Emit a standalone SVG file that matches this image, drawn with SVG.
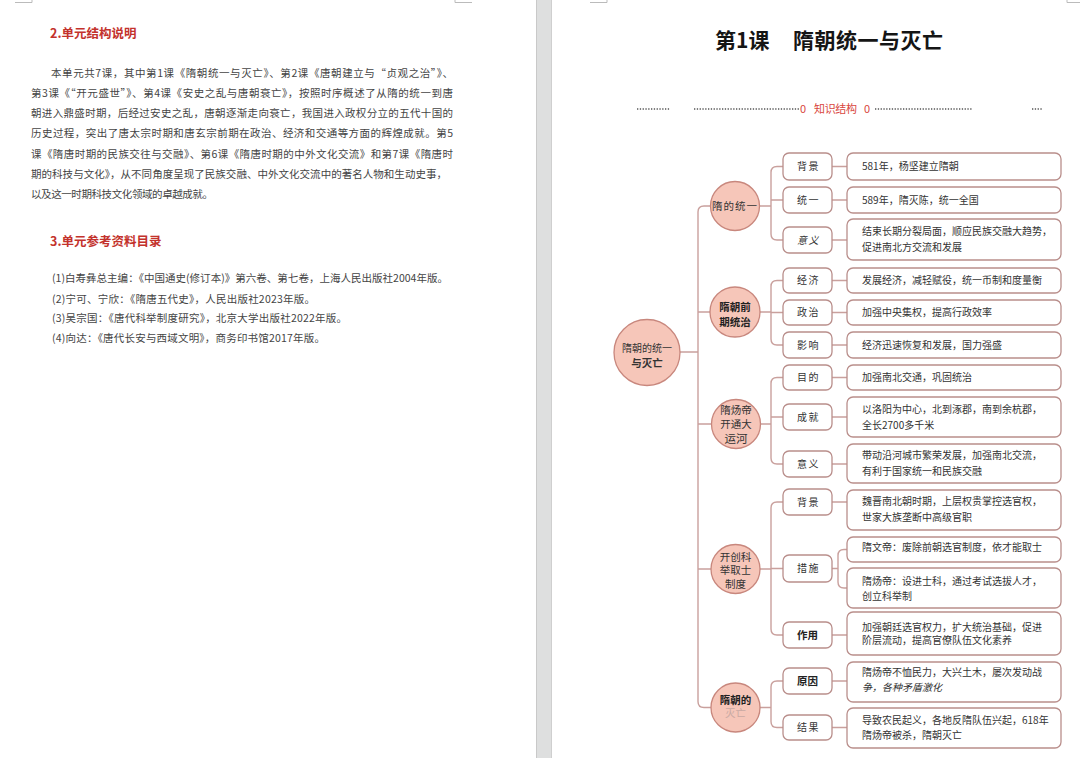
<svg xmlns="http://www.w3.org/2000/svg" width="1080" height="758" viewBox="0 0 1080 758">
<style>
text{font-family:"Noto Sans CJK SC","Noto Sans",sans-serif}
.body{font-size:10.5px;fill:#444}
.h{font-size:12.5px;font-weight:bold;fill:#c3322c}
.title{font-size:21px;font-weight:bold;fill:#151515}
.red{font-size:11px;fill:#d9463e}
.dots{fill:none;stroke:#555;stroke-width:1.5;stroke-dasharray:1.3 1.5}
.crop{fill:none;stroke:#bbb;stroke-width:1}
.circ{fill:#f6c6b9;stroke:#c8877d;stroke-width:1.3}
.box{fill:#fff;stroke:#b98e8b;stroke-width:1.3}
.conn{fill:none;stroke:#c9a09d;stroke-width:1.4}
.nt{font-size:10.5px;fill:#333;text-anchor:middle}
.bt{font-size:10px;fill:#333;text-anchor:middle;letter-spacing:1.5px}
.bb{font-size:10.5px;fill:#222;text-anchor:middle;font-weight:bold}
.ct{font-size:10px;fill:#333}
</style>
<rect x="0" y="0" width="1080" height="758" fill="#fff"/>
<rect x="536" y="0" width="16" height="758" fill="#dedfdf"/>
<line x1="536.5" y1="0" x2="536.5" y2="758" stroke="#c9c9c9"/>
<line x1="551.5" y1="0" x2="551.5" y2="758" stroke="#cfcfcf"/>
<path class="crop" d="M15 2.5H32V0M455 0V2.5H472M590 2.5H607V0M1067 0V2.5H1080"/>

<g id="left-page">
<text class="h" x="50" y="37.5">2.单元结构说明</text>
<text class="body" x="51" y="76.7" textLength="402" lengthAdjust="spacing">本单元共7课，其中第1课《隋朝统一与灭亡》、第2课《唐朝建立与“贞观之治”》、</text>
<text class="body" x="31" y="96.9" textLength="422" lengthAdjust="spacing">第3课《“开元盛世”》、第4课《安史之乱与唐朝衰亡》，按照时序概述了从隋的统一到唐</text>
<text class="body" x="31" y="117.1" textLength="422" lengthAdjust="spacing">朝进入鼎盛时期，后经过安史之乱，唐朝逐渐走向衰亡，我国进入政权分立的五代十国的</text>
<text class="body" x="31" y="137.3" textLength="422" lengthAdjust="spacing">历史过程，突出了唐太宗时期和唐玄宗前期在政治、经济和交通等方面的辉煌成就。第5</text>
<text class="body" x="31" y="157.5" textLength="422" lengthAdjust="spacing">课《隋唐时期的民族交往与交融》、第6课《隋唐时期的中外文化交流》和第7课《隋唐时</text>
<text class="body" x="31" y="177.7" textLength="416" lengthAdjust="spacing">期的科技与文化》，从不同角度呈现了民族交融、中外文化交流中的著名人物和生动史事，</text>
<text class="body" x="31" y="197.9" textLength="182" lengthAdjust="spacing">以及这一时期科技文化领域的卓越成就。</text>
<text class="h" x="50" y="246">3.单元参考资料目录</text>
<text class="body" x="52" y="282.3" textLength="396" lengthAdjust="spacing">(1)白寿彝总主编：《中国通史(修订本)》第六卷、第七卷，上海人民出版社2004年版。</text>
<text class="body" x="52" y="303.3" textLength="263" lengthAdjust="spacing">(2)宁可、宁欣：《隋唐五代史》，人民出版社2023年版。</text>
<text class="body" x="52" y="322.3" textLength="295" lengthAdjust="spacing">(3)吴宗国：《唐代科举制度研究》，北京大学出版社2022年版。</text>
<text class="body" x="52" y="342.3" textLength="273" lengthAdjust="spacing">(4)向达：《唐代长安与西域文明》，商务印书馆2017年版。</text>
</g>

<g id="right-header">
<text class="title" x="715" y="47.5">第1课</text>
<text class="title" x="793" y="47.5" textLength="150" lengthAdjust="spacing">隋朝统一与灭亡</text>
<path class="dots" d="M637 109H670M694 109H800M875 109H973M1032 109H1043"/>
<text class="red" x="800" y="113">0</text>
<text class="red" x="814" y="113" textLength="43" lengthAdjust="spacing">知识结构</text>
<text class="red" x="864" y="113">0</text>
</g>

<g id="connectors">
<path class="conn" d="M680 352H698M710 206H704Q698 206 698 212V701.5Q698 707.5 704 707.5H711M698 312H710M698 424H712M698 569H711"/>
<path class="conn" d="M759 206H771M783 166.5H777Q771 166.5 771 172.5V234Q771 240 777 240H783M771 200H783"/>
<path class="conn" d="M760 312H771M783 280.5H777Q771 280.5 771 286.5V339Q771 345 777 345H783M771 312.5H783"/>
<path class="conn" d="M760 424H771M783 377.5H777Q771 377.5 771 383.5V458Q771 464 777 464H783M771 417H783"/>
<path class="conn" d="M759.5 569H771M783 502H777Q771 502 771 508V629Q771 635 777 635H783M771 568.5H783"/>
<path class="conn" d="M759.5 707.5H771M783 681H777Q771 681 771 687V721.5Q771 727.5 777 727.5H783"/>
<path class="conn" d="M832 166.5H847M832 200H847M832 240H847M832 280.5H847M832 312.5H847M832 345H847M832 377.5H847M832 417H847M832 464H847M832 502H847M832 635H847M832 681H847M832 727.5H847"/>
<path class="conn" d="M832 568.5H838M847 549.5H844Q838 549.5 838 555.5V582Q838 588 844 588H847"/>
</g>

<g id="root">
<circle class="circ" cx="647" cy="352.5" r="33"/>
<text class="nt" x="647" y="352" style="font-size:10px">隋朝的统一</text>
<text class="nt" x="647" y="366.5" style="font-size:10.5px;font-weight:bold">与灭亡</text>
</g>

<g id="n-sui-unify">
<circle class="circ" cx="735" cy="206" r="24.5"/>
<text class="nt" x="735" y="210" letter-spacing="1">隋的统一</text>
</g>
<g id="n-early-rule">
<circle class="circ" cx="735" cy="312" r="25"/>
<text class="bb" x="735" y="311">隋朝前</text>
<text class="bb" x="735" y="326">期统治</text>
</g>
<g id="n-canal">
<circle class="circ" cx="736" cy="424" r="24.5"/>
<text class="nt" x="736" y="414">隋炀帝</text>
<text class="nt" x="736" y="428">开通大</text>
<text class="nt" x="736" y="442.5" style="font-size:11.5px">运河</text>
</g>
<g id="n-keju">
<circle class="circ" cx="735.5" cy="569" r="24.5"/>
<text class="nt" x="735.5" y="561">开创科</text>
<text class="nt" x="735.5" y="574">举取士</text>
<text class="nt" x="735.5" y="588">制度</text>
</g>
<g id="n-fall">
<circle class="circ" cx="735.5" cy="707.5" r="24.5"/>
<text class="bb" x="735.5" y="704">隋朝的</text>
<text class="nt" x="735.5" y="717" style="fill:#c9a9a3">灭亡</text>
</g>

<g id="g1-bg"><rect class="box" x="783" y="153" width="49" height="27" rx="6"/><text class="bt" x="808.5" y="170">背景</text></g>
<g id="g1-bg-c"><rect class="box" x="847" y="153" width="214" height="27" rx="6"/><text class="ct" x="862" y="170">581年，杨坚建立隋朝</text></g>
<g id="g1-ty"><rect class="box" x="783" y="187" width="49" height="26" rx="6"/><text class="bt" x="808.5" y="203.5">统一</text></g>
<g id="g1-ty-c"><rect class="box" x="847" y="187" width="214" height="26" rx="6"/><text class="ct" x="862" y="203.5">589年，隋灭陈，统一全国</text></g>
<g id="g1-yy"><rect class="box" x="783" y="227" width="49" height="26" rx="6"/><text class="bt" x="808.5" y="243.5" font-style="italic">意义</text></g>
<g id="g1-yy-c"><rect class="box" x="847" y="219" width="214" height="41" rx="6"/><text class="ct" x="862" y="235">结束长期分裂局面，顺应民族交融大趋势，</text><text class="ct" x="862" y="251">促进南北方交流和发展</text></g>

<g id="g2-jj"><rect class="box" x="783" y="268" width="49" height="25" rx="6"/><text class="bt" x="808.5" y="284">经济</text></g>
<g id="g2-jj-c"><rect class="box" x="847" y="268" width="214" height="25" rx="6"/><text class="ct" x="862" y="284">发展经济，减轻赋役，统一币制和度量衡</text></g>
<g id="g2-zz"><rect class="box" x="783" y="300" width="49" height="25" rx="6"/><text class="bt" x="808.5" y="316">政治</text></g>
<g id="g2-zz-c"><rect class="box" x="847" y="300" width="214" height="25" rx="6"/><text class="ct" x="862" y="316">加强中央集权，提高行政效率</text></g>
<g id="g2-yx"><rect class="box" x="783" y="332" width="49" height="26" rx="6"/><text class="bt" x="808.5" y="348.5">影响</text></g>
<g id="g2-yx-c"><rect class="box" x="847" y="332" width="214" height="26" rx="6"/><text class="ct" x="862" y="348.5">经济迅速恢复和发展，国力强盛</text></g>

<g id="g3-md"><rect class="box" x="783" y="365" width="49" height="25" rx="6"/><text class="bt" x="808.5" y="381">目的</text></g>
<g id="g3-md-c"><rect class="box" x="847" y="365" width="214" height="25" rx="6"/><text class="ct" x="862" y="381">加强南北交通，巩固统治</text></g>
<g id="g3-cj"><rect class="box" x="783" y="404" width="49" height="26" rx="6"/><text class="bt" x="808.5" y="420.5">成就</text></g>
<g id="g3-cj-c"><rect class="box" x="847" y="397" width="214" height="40" rx="6"/><text class="ct" x="862" y="413">以洛阳为中心，北到涿郡，南到余杭郡，</text><text class="ct" x="862" y="428.5">全长2700多千米</text></g>
<g id="g3-yy"><rect class="box" x="783" y="451" width="49" height="26" rx="6"/><text class="bt" x="808.5" y="467.5">意义</text></g>
<g id="g3-yy-c"><rect class="box" x="847" y="444" width="214" height="39" rx="6"/><text class="ct" x="862" y="459">带动沿河城市繁荣发展，加强南北交流，</text><text class="ct" x="862" y="475">有利于国家统一和民族交融</text></g>

<g id="g4-bg"><rect class="box" x="783" y="489" width="49" height="26" rx="6"/><text class="bt" x="808.5" y="505.5">背景</text></g>
<g id="g4-bg-c"><rect class="box" x="847" y="490" width="214" height="40" rx="6"/><text class="ct" x="862" y="505">魏晋南北朝时期，上层权贵掌控选官权，</text><text class="ct" x="862" y="520.5">世家大族垄断中高级官职</text></g>
<g id="g4-cs"><rect class="box" x="783" y="555" width="49" height="27" rx="6"/><text class="bt" x="808.5" y="572">措施</text></g>
<g id="g4-cs-c1"><rect class="box" x="847" y="537" width="214" height="25" rx="6"/><text class="ct" x="862" y="550.5">隋文帝：废除前朝选官制度，依才能取士</text></g>
<g id="g4-cs-c2"><rect class="box" x="847" y="568" width="214" height="40" rx="6"/><text class="ct" x="862" y="584.5">隋炀帝：设进士科，通过考试选拔人才，</text><text class="ct" x="862" y="599.5">创立科举制</text></g>
<g id="g4-zy"><rect class="box" x="783" y="622" width="49" height="26" rx="6"/><text class="bb" x="807.5" y="639">作用</text></g>
<g id="g4-zy-c"><rect class="box" x="847" y="612" width="214" height="43" rx="6"/><text class="ct" x="862" y="630.5">加强朝廷选官权力，扩大统治基础，促进</text><text class="ct" x="862" y="643.5">阶层流动，提高官僚队伍文化素养</text></g>

<g id="g5-yy"><rect class="box" x="783" y="668" width="49" height="26" rx="6"/><text class="bb" x="807.5" y="685">原因</text></g>
<g id="g5-yy-c"><rect class="box" x="847" y="662" width="214" height="40" rx="6"/><text class="ct" x="862" y="676">隋炀帝不恤民力，大兴土木，屡次发动战</text><text class="ct" x="862" y="690.5" font-style="italic" font-size="11">争，各种矛盾激化</text></g>
<g id="g5-jg"><rect class="box" x="783" y="715" width="49" height="25" rx="6"/><text class="bt" x="808.5" y="731">结果</text></g>
<g id="g5-jg-c"><rect class="box" x="847" y="708" width="214" height="40" rx="6"/><text class="ct" x="862" y="723.5">导致农民起义，各地反隋队伍兴起，618年</text><text class="ct" x="862" y="739">隋炀帝被杀，隋朝灭亡</text></g>
</svg>
